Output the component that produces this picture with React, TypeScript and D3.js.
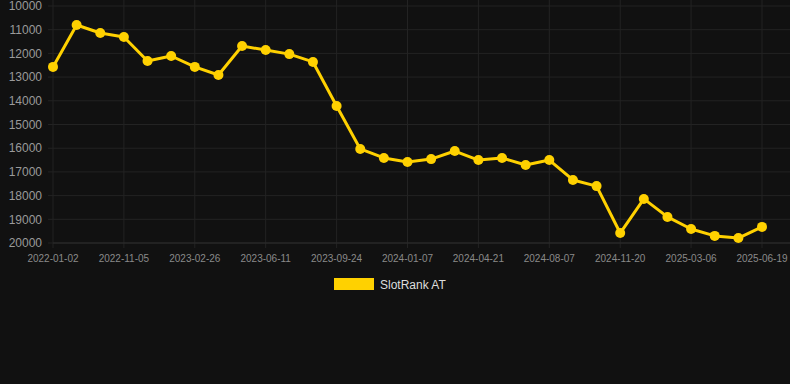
import React from "react";
import * as d3 from "d3";

const seriesName = "SlotRank AT";
const rankValues = [
  12570, 10800, 11140, 11310, 12320, 12110, 12570, 12910, 11690, 11860, 12030, 12360,
  14220, 16030, 16410, 16580, 16460, 16120, 16500, 16410, 16710, 16500, 17340, 17600,
  19580, 18140, 18900, 19410, 19700, 19790, 19320,
];
const tickIndices = [0, 3, 6, 9, 12, 15, 18, 21, 24, 27, 30];
const tickLabels = [
  "2022-01-02", "2022-11-05", "2023-02-26", "2023-06-11", "2023-09-24", "2024-01-07",
  "2024-04-21", "2024-08-07", "2024-11-20", "2025-03-06", "2025-06-19",
];
const yTicks = [10000, 11000, 12000, 13000, 14000, 15000, 16000, 17000, 18000, 19000, 20000];

const W = 790;
const H = 384;
const left = 53;
const right = 790;
const top = 6;
const bottom = 243;
const lineColor = "#FFD100";
const gridColor = "#232323";
const font = "Helvetica, Arial, 'Liberation Sans', sans-serif";

export default function App() {
  const x = d3.scaleLinear().domain([0, rankValues.length - 1]).range([left, 762]);
  const y = d3.scaleLinear().domain([10000, 20000]).range([top, bottom]);
  const line = d3
    .line<number>()
    .x((_, i) => x(i))
    .y((d) => y(d));

  return (
    <div style={{ position: "fixed", left: 0, top: 0, width: W, height: H, background: "#111111" }}>
      <svg width={W} height={H} style={{ display: "block" }}>
        <rect x={0} y={0} width={W} height={H} fill="#111111" />
        {yTicks.map((t) => (
          <g key={t}>
            <line x1={left - 5} x2={right} y1={y(t)} y2={y(t)} stroke={gridColor} strokeWidth={1} />
            <text
              x={42}
              y={y(t)}
              dy="0.35em"
              textAnchor="end"
              fill="#9a9a9a"
              fontSize={12}
              fontFamily={font}
            >
              {t}
            </text>
          </g>
        ))}
        {tickIndices.map((ti, k) => (
          <g key={ti}>
            <line x1={x(ti)} x2={x(ti)} y1={0} y2={bottom + 5} stroke={gridColor} strokeWidth={1} />
            <text
              x={x(ti)}
              y={262}
              textAnchor="middle"
              fill="#8a8a8a"
              fontSize={10}
              fontFamily={font}
            >
              {tickLabels[k]}
            </text>
          </g>
        ))}
        <line x1={left} x2={right} y1={bottom} y2={bottom} stroke="#2c2c2c" strokeWidth={1} />
        <path d={line(rankValues) || ""} fill="none" stroke={lineColor} strokeWidth={3} strokeLinejoin="round" />
        {rankValues.map((v, i) => (
          <circle key={i} cx={x(i)} cy={y(v)} r={5} fill={lineColor} />
        ))}
        <rect x={334} y={278} width={40} height={12} fill={lineColor} />
        <text x={380} y={288.5} fill="#dddddd" fontSize={12} fontFamily={font}>
          {seriesName}
        </text>
      </svg>
    </div>
  );
}
